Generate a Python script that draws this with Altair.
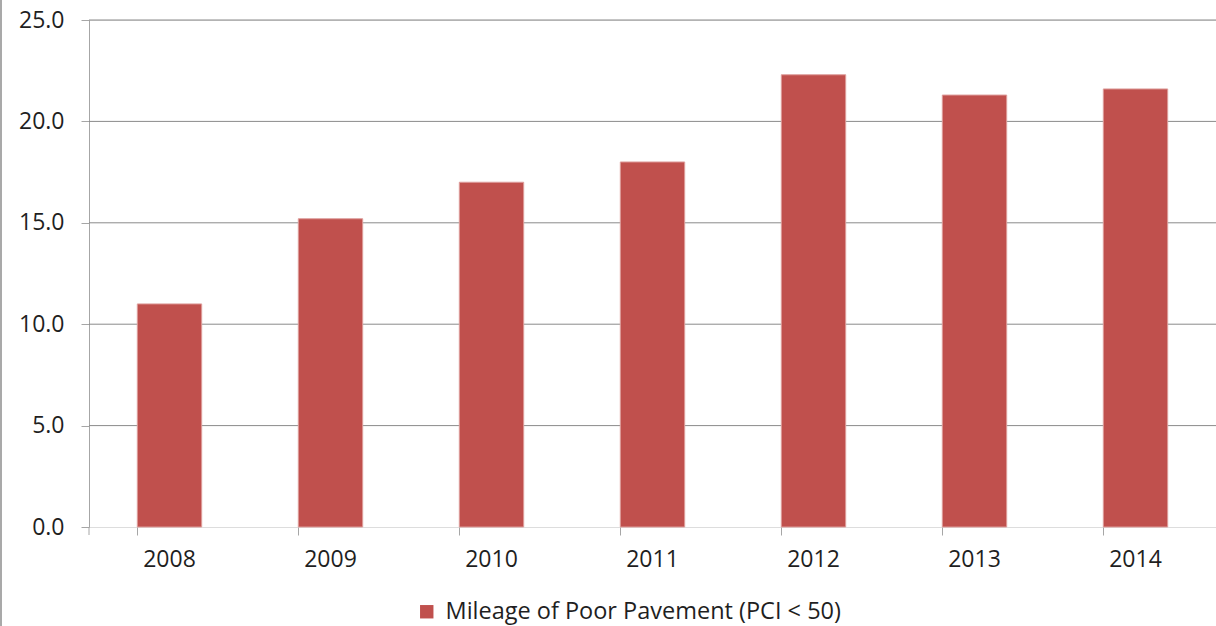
import altair as alt
import pandas as pd

# Mileage of poor pavement (PCI < 50) by year
years = ["2008", "2009", "2010", "2011", "2012", "2013", "2014"]
mileage = [11.0, 15.2, 17.0, 18.0, 22.3, 21.3, 21.6]
series_name = "Mileage of Poor Pavement (PCI < 50)"
y_ticks = [0, 5, 10, 15, 20, 25]
grid_values = [5, 10, 15, 20, 25]

df = pd.DataFrame({"year": years, "miles": mileage, "series": [series_name] * len(years)})
grid_df = pd.DataFrame({"level": grid_values})
frame_df = pd.DataFrame({"edge": ["left"]})

FONT = "Open Sans"
BAR = "#C0504D"
AXIS_GRAY = "#A6A6A6"
TEXT = "#1F1F1F"
W, H = 1127, 507

y_scale = alt.Scale(domain=[0, 25], nice=False)
y_axis = alt.Axis(
    title=None, values=y_ticks, format=".1f",
    domain=True, domainColor=AXIS_GRAY, domainWidth=1,
    ticks=True, tickSize=8, tickColor=AXIS_GRAY, tickWidth=1,
    grid=False,
    labelFontSize=23, labelFont=FONT, labelColor=TEXT,
    labelPadding=17,
)

# horizontal gridlines above the baseline
grid = alt.Chart(grid_df).mark_rule(color="#8A8A8A", strokeWidth=1).encode(
    y=alt.Y("level:Q", scale=y_scale, axis=y_axis)
)

bars = alt.Chart(df).mark_bar(
    color=BAR, stroke="#DE9E9C", strokeWidth=1
).encode(
    x=alt.X(
        "year:N",
        sort=years,
        scale=alt.Scale(paddingInner=0.6, paddingOuter=0.3),
        axis=alt.Axis(
            title=None, domain=False,
            labelAngle=0, bandPosition=0,
            ticks=True, tickSize=8, tickColor=AXIS_GRAY, tickWidth=1,
            labelFontSize=23, labelFont=FONT, labelColor=TEXT,
            labelPadding=13, grid=False,
        ),
    ),
    y=alt.Y("miles:Q", scale=y_scale, axis=y_axis),
    fill=alt.Fill(
        "series:N",
        scale=alt.Scale(domain=[series_name], range=[BAR]),
        legend=alt.Legend(
            title=None, orient="none", legendX=326, legendY=580,
            symbolType="square", symbolSize=180, symbolStrokeWidth=0,
            labelFontSize=23.5, labelFont=FONT, labelColor=TEXT,
            labelOffset=7, labelLimit=0, padding=0,
        ),
    ),
)

# extension of the value axis below the baseline, and the outer frame edge
axis_tail = alt.Chart(frame_df).mark_rule(color=AXIS_GRAY, strokeWidth=1).encode(
    x=alt.value(0), y=alt.value(H), y2=alt.value(H + 8)
)
frame_edge = alt.Chart(frame_df).mark_rule(color="#8C8C8C", strokeWidth=1.5).encode(
    x=alt.value(-88), y=alt.value(-20), y2=alt.value(H + 99)
)

chart = (
    alt.layer(grid, bars, axis_tail, frame_edge)
    .properties(
        width=W, height=H,
        autosize=alt.AutoSizeParams(type="none"),
        padding={"left": 89, "top": 20, "right": 0, "bottom": 99},
    )
    .configure_view(strokeWidth=0, stroke="transparent")
    .configure_axis(gridOpacity=0, grid=False)
    .configure(background="white")
)

chart.save("out.html", embed_options={"renderer": "svg", "actions": False})
